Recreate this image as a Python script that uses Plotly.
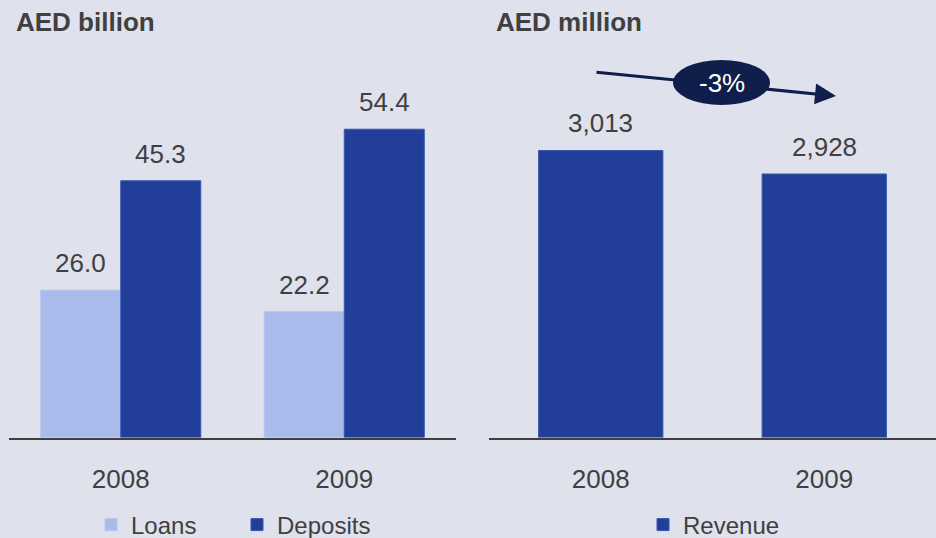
import plotly.graph_objects as go

years = ["2008", "2009"]
loans = [26.0, 22.2]
deposits = [45.3, 54.4]
revenue = [3013, 2928]
loan_labels = ["26.0", "22.2"]
deposit_labels = ["45.3", "54.4"]
revenue_labels = ["3,013", "2,928"]
change_label = "-3%"

BG = "#DFE1ED"
LIGHT = "#A9BBEB"
DARK = "#213F99"
NAVY = "#0F1E4A"
TXT = "#404040"
FONT = "Liberation Sans, Arial, sans-serif"

W, H = 936, 538
base_px = 437.5
top_px = 40

fig = go.Figure()
fig.add_trace(go.Bar(x=years, y=loans, name="Loans", marker_color=LIGHT,
                     marker_line=dict(width=1, color="#B6C5EE"),
                     offset=-0.358, width=0.358, xaxis="x", yaxis="y", legend="legend"))
fig.add_trace(go.Bar(x=years, y=deposits, name="Deposits", marker_color=DARK,
                     marker_line=dict(width=1, color="#3955AB"),
                     offset=0, width=0.358, xaxis="x", yaxis="y", legend="legend"))
fig.add_trace(go.Bar(x=years, y=revenue, name="Revenue", marker_color=DARK,
                     marker_line=dict(width=1, color="#3955AB"),
                     width=0.556, xaxis="x2", yaxis="y2", legend="legend2"))

ydom = [(H - base_px) / H, 1 - top_px / H]
left_max = (base_px - top_px) / 5.667
rev_min = 1975
rev_max = rev_min + (base_px - top_px) / 0.2765

axis_common = dict(type="category", categoryarray=years, categoryorder="array",
                   range=[-0.5, 1.5], automargin=False, showgrid=False, zeroline=False,
                   showline=True, linecolor="#3F3F3F",
                   linewidth=2, ticks="outside", ticklen=17, tickcolor="rgba(0,0,0,0)",
                   tickfont=dict(size=26, color=TXT, family=FONT), fixedrange=True)

lab_font = dict(size=26, color=TXT, family=FONT)
ann = []
for i in range(len(years)):
    ann.append(dict(x=i, y=loans[i], xref="x", yref="y", text=loan_labels[i], showarrow=False,
                    xshift=-40, yshift=10, yanchor="bottom", font=lab_font))
    ann.append(dict(x=i, y=deposits[i], xref="x", yref="y", text=deposit_labels[i], showarrow=False,
                    xshift=40, yshift=10, yanchor="bottom", font=lab_font))
    ann.append(dict(x=i, y=revenue[i], xref="x2", yref="y2", text=revenue_labels[i], showarrow=False,
                    yshift=10, yanchor="bottom", font=lab_font))

ann.append(dict(x=14 / W, y=1 - 22 / H, xref="paper", yref="paper", text="<b>AED billion</b>",
                showarrow=False, xanchor="left", yanchor="middle", font=lab_font))
ann.append(dict(x=494 / W, y=1 - 22 / H, xref="paper", yref="paper", text="<b>AED million</b>",
                showarrow=False, xanchor="left", yanchor="middle", font=lab_font))
# growth arrow
ann.append(dict(x=836 / W, y=1 - 96 / H, xref="paper", yref="paper", ax=-241, ay=-24,
                axref="pixel", ayref="pixel", showarrow=True, arrowhead=2, arrowsize=1.4,
                arrowwidth=3, arrowcolor=NAVY, text=""))
ann.append(dict(x=722 / W, y=1 - 83 / H, xref="paper", yref="paper", text=change_label,
                showarrow=False, xanchor="center", yanchor="middle",
                font=dict(size=26, color="white", family=FONT)))

shapes = [dict(type="circle", xref="paper", yref="paper", x0=673 / W, x1=770 / W,
               y0=1 - 105 / H, y1=1 - 60 / H, fillcolor=NAVY, line=dict(width=0), layer="below")]

fig.update_layout(
    width=W, height=H, margin=dict(l=0, r=0, t=0, b=0, autoexpand=False),
    paper_bgcolor=BG, plot_bgcolor="rgba(0,0,0,0)", barmode="overlay",
    font=dict(family=FONT, color=TXT),
    xaxis=dict(domain=[9 / W, 456 / W], anchor="y", **axis_common),
    yaxis=dict(domain=ydom, range=[0, left_max], visible=False, fixedrange=True),
    xaxis2=dict(domain=[489 / W, 1.0], anchor="y2", **axis_common),
    yaxis2=dict(domain=ydom, range=[rev_min, rev_max], visible=False, fixedrange=True),
    legend=dict(orientation="h", x=91 / W, xanchor="left", y=1 - 525 / H, yanchor="middle",
                entrywidth=101, font=dict(size=24, color=TXT, family=FONT), bgcolor="rgba(0,0,0,0)",
                traceorder="normal"),
    legend2=dict(orientation="h", x=643 / W, xanchor="left", y=1 - 525 / H, yanchor="middle",
                 font=dict(size=24, color=TXT, family=FONT), bgcolor="rgba(0,0,0,0)"),
    annotations=ann, shapes=shapes, showlegend=True,
)

fig.write_html("out.html")
